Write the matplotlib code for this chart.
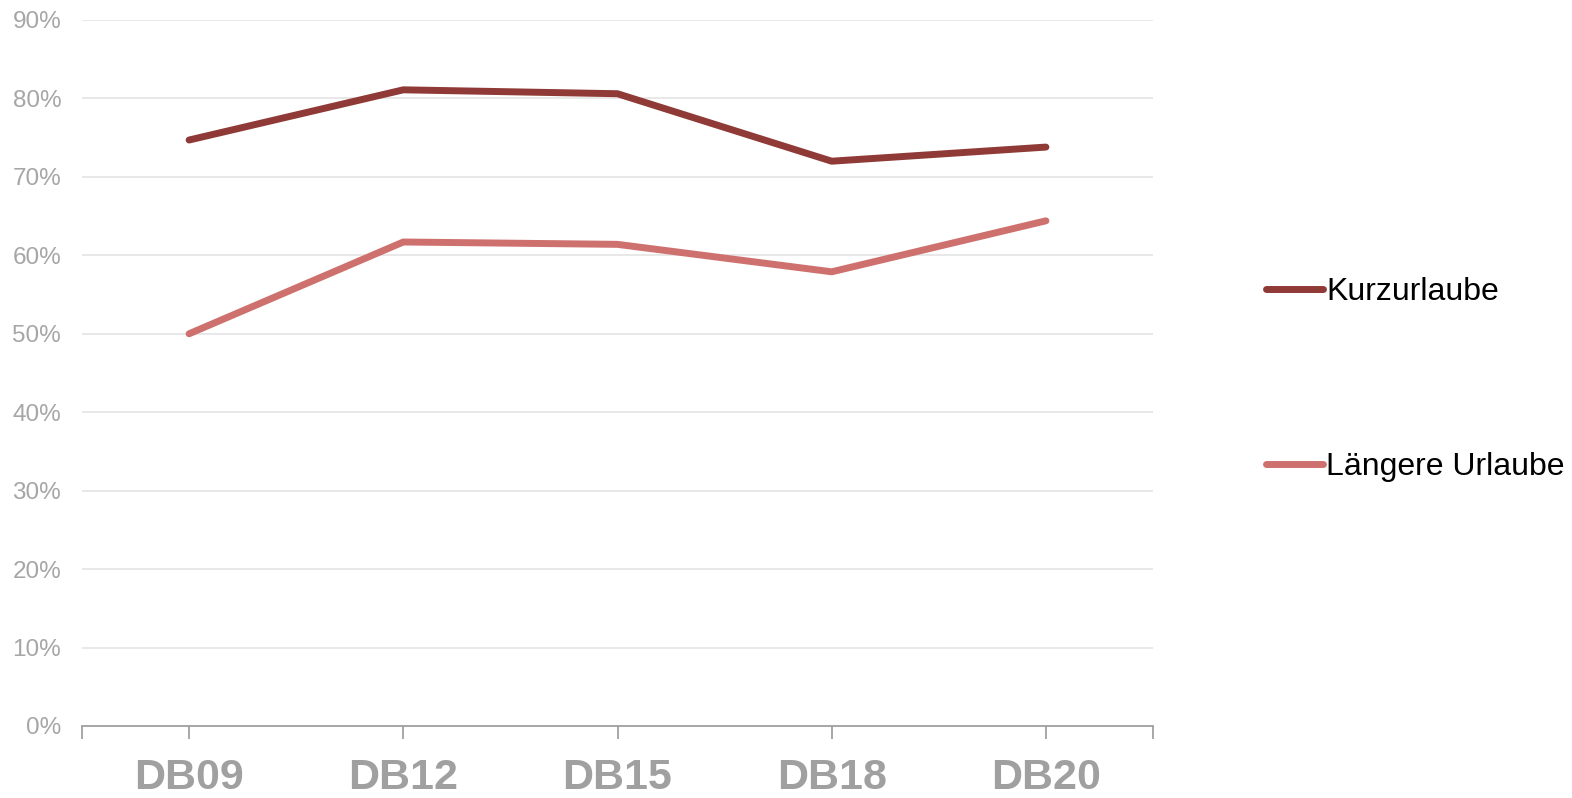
import matplotlib
matplotlib.use("Agg")
import matplotlib.pyplot as plt
from matplotlib.ticker import FuncFormatter

# -------------------------------
# DATA
# -------------------------------
categories = ["DB09", "DB12", "DB15", "DB18", "DB20"]
kurzurlaube = [74.7, 81.1, 80.6, 72.0, 73.8]
laengere = [50.0, 61.7, 61.4, 57.9, 64.4]
series_names = ["Kurzurlaube", "Längere Urlaube"]
colors = ["#8F3A36", "#CE716E"]

plt.rcParams["font.family"] = ["Liberation Sans", "DejaVu Sans"]

fig = plt.figure(figsize=(15.72, 7.98), dpi=100)
ax = fig.add_axes([82 / 1572, 1 - 726 / 798, (1153 - 82) / 1572, (726 - 20) / 798])

x = range(len(categories))
for vals, name, col in zip([kurzurlaube, laengere], series_names, colors):
    ax.plot(x, vals, color=col, lw=5, solid_capstyle="round",
            solid_joinstyle="round", label=name)

ax.set_xlim(-0.5, len(categories) - 0.5)
ax.set_ylim(0, 90)
ax.set_yticks(range(0, 91, 10))
ax.yaxis.set_major_formatter(FuncFormatter(lambda v, p: f"{v:.0f}%"))
ax.grid(axis="y", color="#E6E6E6", lw=1.3)
ax.set_axisbelow(True)

ax.set_xticks(list(x))
ax.set_xticklabels(categories, fontsize=31, fontweight="bold", color="#A0A0A0")
ax.set_xticks([-0.5, len(categories) - 0.5], minor=True)
ax.tick_params(axis="x", which="both", length=9, width=1.3, color="#A0A0A0", pad=14)
ax.tick_params(axis="y", length=0, labelsize=17.5, labelcolor="#A6A6A6", pad=15)

for s in ["top", "right", "left"]:
    ax.spines[s].set_visible(False)
ax.spines["bottom"].set_color("#A0A0A0")
ax.spines["bottom"].set_linewidth(1.3)

leg = fig.legend(loc="upper left", bbox_to_anchor=(1253 / 1572, 1 - 264 / 798),
                 frameon=False, fontsize=23, handlelength=1.8, handletextpad=0.1,
                 labelspacing=4.55, borderaxespad=0)

fig.savefig("out.png", dpi=100)
